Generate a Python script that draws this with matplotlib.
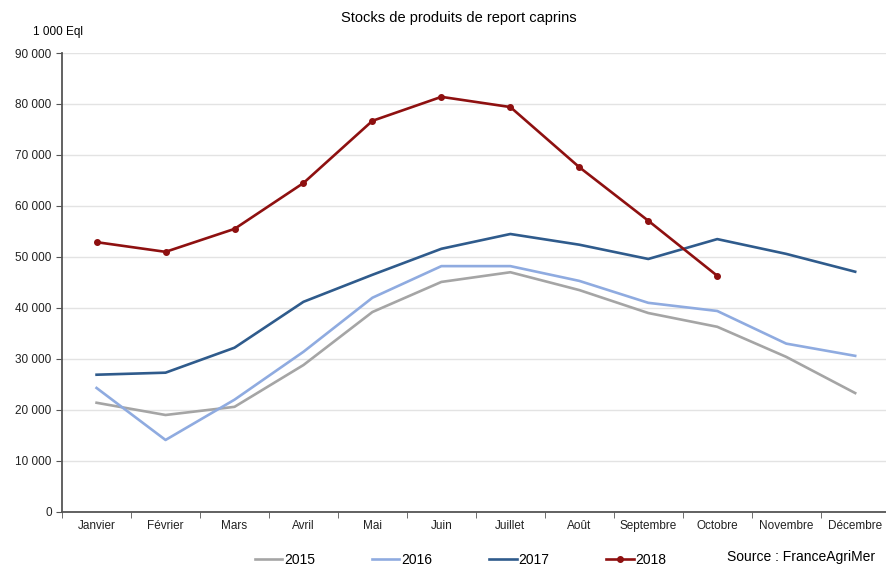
import matplotlib
matplotlib.use("Agg")
import matplotlib.pyplot as plt
from matplotlib.ticker import FuncFormatter, FixedLocator

plt.rcParams['font.family'] = ['Liberation Sans', 'DejaVu Sans']

months = ["Janvier", "Février", "Mars", "Avril", "Mai", "Juin", "Juillet",
          "Août", "Septembre", "Octobre", "Novembre", "Décembre"]
s2015 = [21400, 19000, 20600, 28800, 39200, 45100, 47000, 43500, 39000, 36300, 30400, 23300]
s2016 = [24300, 14100, 22000, 31400, 42000, 48200, 48200, 45300, 41000, 39400, 33000, 30600]
s2017 = [26900, 27300, 32200, 41200, 46500, 51600, 54500, 52400, 49600, 53500, 50600, 47100]
s2018 = [52900, 51000, 55500, 64500, 76700, 81400, 79400, 67600, 57100, 46300]
yticks = [0, 10000, 20000, 30000, 40000, 50000, 60000, 70000, 80000, 90000]

fig = plt.figure(figsize=(8.87, 5.70), dpi=100)
ax = fig.add_axes([0.070, 0.102, 0.933, 0.805])

x = list(range(len(months)))
ax.plot(x, s2015, color="#a5a5a5", lw=1.9, label="2015")
ax.plot(x, s2016, color="#8fabe0", lw=1.9, label="2016")
ax.plot(x, s2017, color="#2f5b8c", lw=1.9, label="2017")
ax.plot(x[:len(s2018)], s2018, color="#8e1010", lw=1.9, marker="o", ms=4, label="2018")

ax.set_ylim(0, 90000)
ax.set_xlim(-0.5, len(months) - 0.5)
ax.set_yticks(yticks)
ax.yaxis.set_major_formatter(FuncFormatter(lambda v, p: f"{int(v):,}".replace(",", " ")))
ax.set_xticks(x)
ax.set_xticklabels(months)
ax.xaxis.set_minor_locator(FixedLocator([i - 0.5 for i in range(len(months) + 1)]))
ax.tick_params(axis="x", which="major", length=0, labelsize=8.5, pad=6, colors="#222222")
ax.tick_params(axis="x", which="minor", length=4, direction="out", color="#555555")
ax.tick_params(axis="y", length=4, direction="out", color="#555555", labelsize=8.5, colors="#222222")

ax.grid(axis="y", color="#e3e3e3", lw=1)
ax.set_axisbelow(True)
for sp in ["top", "right"]:
    ax.spines[sp].set_visible(False)
for sp in ["left", "bottom"]:
    ax.spines[sp].set_color("#555555")
    ax.spines[sp].set_linewidth(1.3)

fig.text(0.517, 0.968, "Stocks de produits de report caprins", ha="center", va="center", fontsize=10.5)
fig.text(0.037, 0.944, "1 000 Eql", ha="left", va="center", fontsize=8.5)

leg = fig.legend(loc="center", bbox_to_anchor=(0.519, 0.018), ncol=4, frameon=False,
                 fontsize=10, handlelength=2.0, handletextpad=0.1, columnspacing=4.1)
fig.text(0.82, 0.022, "Source : FranceAgriMer", ha="left", va="center", fontsize=10)

fig.savefig("out.png", dpi=100)
